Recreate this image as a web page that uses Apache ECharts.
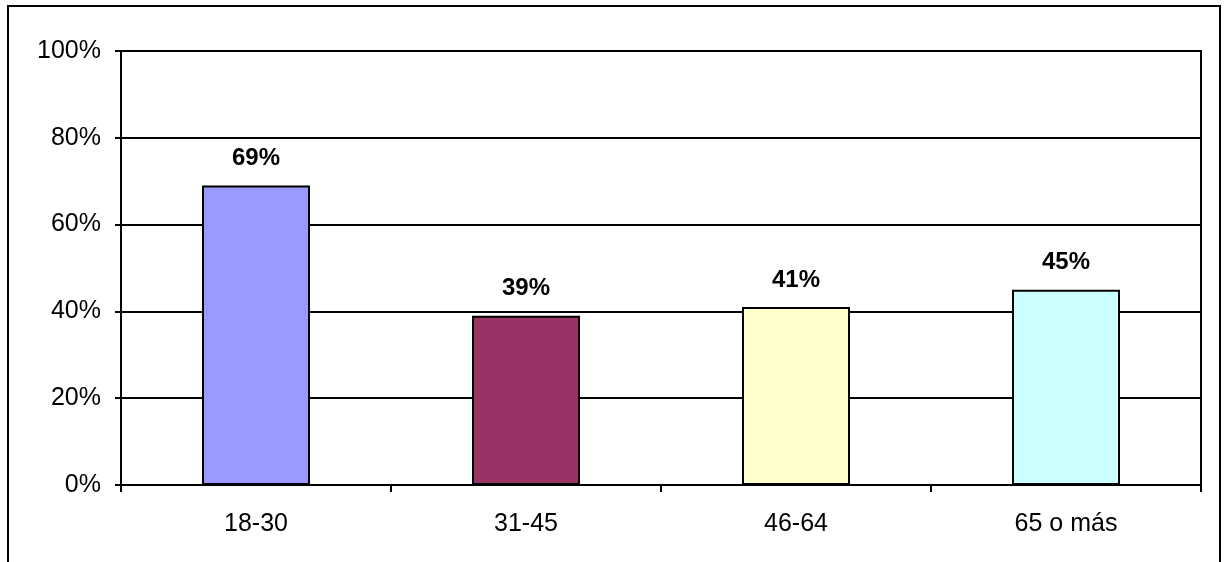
<!DOCTYPE html>
<html>
<head>
<meta charset="utf-8">
<script src="https://cdn.jsdelivr.net/npm/echarts@6/dist/echarts.min.js"></script>
<style>
html,body{margin:0;padding:0;background:#fff;}
#c{width:1228px;height:562px;}
</style>
</head>
<body>
<div id="c"></div>
<script>
const categories = ['18-30', '31-45', '46-64', '65 o más'];
const values = [69, 39, 41, 45];
const barColors = ['#9999FF', '#993366', '#FFFFCC', '#CCFFFF'];
const yTicks = [0, 20, 40, 60, 80, 100];

const chart = echarts.init(document.getElementById('c'), null, {renderer: 'canvas'});
const font = '"Liberation Sans", Arial, sans-serif';
chart.setOption({
  animation: false,
  backgroundColor: '#fff',
  graphic: [{
    type: 'rect',
    shape: {x: 8, y: 6, width: 1212, height: 600},
    style: {fill: 'none', stroke: '#000', lineWidth: 2},
    silent: true
  }],
  grid: {
    left: 121, right: 27, top: 51, bottom: 77,
    show: true, borderColor: '#000', borderWidth: 2, backgroundColor: '#fff'
  },
  xAxis: {
    type: 'category',
    data: categories,
    axisLine: {lineStyle: {color: '#000', width: 2}},
    axisTick: {show: true, alignWithLabel: false, length: 7, lineStyle: {color: '#000', width: 2}},
    axisLabel: {color: '#000', fontSize: 25, fontFamily: font, margin: 27}
  },
  yAxis: {
    type: 'value',
    min: yTicks[0], max: yTicks[yTicks.length - 1], interval: 20,
    axisLine: {show: true, lineStyle: {color: '#000', width: 2}},
    axisTick: {show: true, length: 6, lineStyle: {color: '#000', width: 2}},
    splitLine: {show: true, lineStyle: {color: '#000', width: 2}},
    axisLabel: {color: '#000', fontSize: 25, fontFamily: font, margin: 20, formatter: v => v + '%'}
  },
  series: [{
    type: 'bar',
    barWidth: '40%',
    data: values.map((v, i) => ({value: v, itemStyle: {color: barColors[i]}})),
    itemStyle: {borderColor: '#000', borderWidth: 2},
    label: {
      show: true, position: 'top', distance: 15,
      color: '#000', fontSize: 24, fontWeight: 'bold', fontFamily: font,
      formatter: p => p.value + '%'
    }
  }]
});
</script>
</body>
</html>
